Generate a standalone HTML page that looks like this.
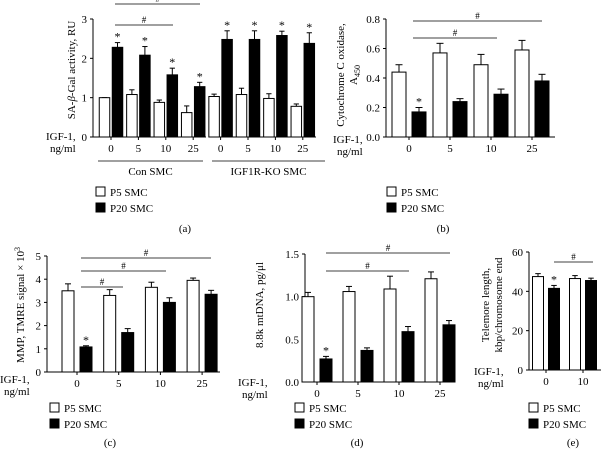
<!DOCTYPE html>
<html><head><meta charset="utf-8">
<style>
html,body{margin:0;padding:0;background:#fff;}
svg{display:block;font-family:"Liberation Serif",serif;}
</style></head>
<body>
<svg id="fig" width="605" height="451" viewBox="0 0 605 451" xmlns="http://www.w3.org/2000/svg">
</svg>
<script>
// Panel (a)
const aCats = ["0","5","10","25","0","5","10","25"];
const aP5 = [1.0,1.08,0.88,0.62,1.03,1.08,0.98,0.78];
const aP5Err = [0.0,0.12,0.06,0.17,0.06,0.16,0.12,0.06];
const aP20 = [2.28,2.08,1.58,1.28,2.48,2.48,2.58,2.38];
const aP20Err = [0.12,0.22,0.17,0.11,0.22,0.22,0.11,0.27];
const aTicks = [0,1,2,3];
// Panel (b)
const bCats = ["0","5","10","25"];
const bP5 = [0.44,0.57,0.49,0.59];
const bP5Err = [0.05,0.065,0.07,0.065];
const bP20 = [0.17,0.24,0.29,0.38];
const bP20Err = [0.03,0.02,0.035,0.045];
const bTicks = [0,0.2,0.4,0.6,0.8];
const bTickLabels = ["0.0","0.2","0.4","0.6","0.8"];
// Panel (c)
const cCats = ["0","5","10","25"];
const cP5 = [3.5,3.3,3.65,3.95];
const cP5Err = [0.3,0.25,0.22,0.1];
const cP20 = [1.08,1.7,3.0,3.35];
const cP20Err = [0.05,0.17,0.2,0.17];
const cTicks = [0,1,2,3,4,5];
// Panel (d)
const dCats = ["0","5","10","25"];
const dP5 = [1.0,1.06,1.09,1.21];
const dP5Err = [0.05,0.06,0.15,0.08];
const dP20 = [0.27,0.37,0.59,0.67];
const dP20Err = [0.03,0.03,0.06,0.05];
const dTicks = [0,0.5,1.0,1.5];
const dTickLabels = ["0.0","0.5","1.0","1.5"];
// Panel (e)
const eCats = ["0","10"];
const eP5 = [47.5,46.5];
const eP5Err = [1.5,1.5];
const eP20 = [41.5,45.5];
const eP20Err = [1.5,1.2];
const eTicks = [0,20,40,60];

const NS = "http://www.w3.org/2000/svg";
const svg = document.getElementById("fig");
function mk(tag, attrs, parent, text){
  const e = document.createElementNS(NS, tag);
  for (const k in attrs) e.setAttribute(k, attrs[k]);
  if (text !== undefined) e.textContent = text;
  (parent||svg).appendChild(e);
  return e;
}

function panel(cfg){
  const g = mk("g", {});
  
  
  const y = v => cfg.y0 - v * (cfg.y0 - cfg.yTop) / cfg.max;
  const cx = i => cfg.c0 + i * cfg.step;
  const ya = mk("line", {x1:cfg.ax, x2:cfg.ax, y1:cfg.yTop, y2:cfg.y0, stroke:"#000","stroke-width":1}, g);
  
  
  cfg.ticks.forEach((t, k) => {
    mk("line", {x1:cfg.ax-3, x2:cfg.ax, y1:y(t), y2:y(t), stroke:"#000"}, g);
    const tl = mk("text", {x:cfg.ax-6, y:y(t)+4, "font-size":11, "text-anchor":"end"}, g, cfg.tickLabels ? cfg.tickLabels[k] : String(t));
    
    
  });
  (cfg.xSegs || [[cfg.ax, cfg.xEnd]]).forEach(s => {
    const xa = mk("line", {x1:s[0], x2:s[1], y1:cfg.y0, y2:cfg.y0, stroke:"#000"}, g);
    
    
  });
  cfg.cats.forEach((c, i) => {
    mk("line", {x1:cx(i), x2:cx(i), y1:cfg.y0, y2:cfg.y0+3, stroke:"#000"}, g);
    const xl = mk("text", {x:cx(i), y:cfg.y0+15, "font-size":11, "text-anchor":"middle"}, g, c);
    
    
  });
  function bars(vals, errs, off, fill, nm, star){
    vals.forEach((v, i) => {
      const x = cx(i) + off;
      const top = y(v + errs[i]);
      mk("line", {x1:x, x2:x, y1:y(v), y2:top, stroke:"#000"}, g);
      mk("line", {x1:x-cfg.bw/4, x2:x+cfg.bw/4, y1:top, y2:top, stroke:"#000"}, g);
      const r = mk("rect", {x:x-cfg.bw/2, y:y(v), width:cfg.bw, height:cfg.y0-y(v), fill:fill, stroke:"#000","stroke-width":1}, g);
      
      
      if (star(i)) {
        const s = mk("text", {x:x, y:top-2, "font-size":12, "text-anchor":"middle"}, g, "*");
        
        
      }
    });
  }
  bars(cfg.p5, cfg.p5e, -cfg.off, "#fff", "bar-p5", () => false);
  bars(cfg.p20, cfg.p20e, cfg.off, "#000", "bar-p20", cfg.star);
  cfg.sig.forEach(s => {
    mk("line", {x1:s[1], x2:s[2], y1:s[0], y2:s[0], stroke:"#000","stroke-width":0.8}, g);
    const h = mk("text", {x:(s[1]+s[2])/2, y:s[0]-2, "font-size":9, "text-anchor":"middle"}, g, "#");
    
    
  });
  const tt = mk("text", {transform:`translate(${cfg.tx},${cfg.ty}) rotate(-90)`, "font-size":11, "text-anchor":"middle"}, g);
  
  
  cfg.title.forEach((line, k) => {
    const ts = mk("tspan", {x:0, dy: k===0 ? 0 : 13}, tt);
    ts.innerHTML = line;
  });
  const ig = mk("text", {x:cfg.igx, y:cfg.igy, "font-size":11}, g);
  
  
  mk("tspan", {x:cfg.igx, dy:0}, ig, "IGF-1,");
  mk("tspan", {x:cfg.igx+4, dy:12}, ig, "ng/ml");
  const lg = mk("g", {}, g);
  
  
  [["#fff","P5 SMC",cfg.ly],["#000","P20 SMC",cfg.ly+16]].forEach(e => {
    mk("rect", {x:cfg.lx, y:e[2]-5, width:9, height:9, fill:e[0], stroke:"#000"}, lg);
    const t = mk("text", {x:cfg.lx+14, y:e[2]+4, "font-size":11}, lg, e[1]);
    
    
  });
  const pl = mk("text", {x:cfg.plx, y:cfg.ply, "font-size":11, "text-anchor":"middle"}, g, cfg.plabel);
  
  
}

panel({name:"panel-a", ax:93, y0:137, yTop:19, max:3, ticks:aTicks, cats:aCats, c0:111, step:27.4, off:6.5, bw:10.5,
  xSegs:[[93,206],[209,316]], p5:aP5, p5e:aP5Err, p20:aP20, p20e:aP20Err, star:()=>true,
  sig:[[25,115,173],[4,115,200]], title:["SA-<tspan font-style='italic'>β</tspan>-Gal activity, RU"], tx:75, ty:70,
  igx:46, igy:140, lx:96, ly:192, plx:185, ply:232, plabel:"(a)"});
panel({name:"panel-b", ax:386, y0:137, yTop:19, max:0.8, ticks:bTicks, tickLabels:bTickLabels, cats:bCats, c0:409, step:41, off:10, bw:14,
  xEnd:555, p5:bP5, p5e:bP5Err, p20:bP20, p20e:bP20Err, star:i=>i===0,
  sig:[[38,413,497],[21,413,542]], title:["Cytochrome C oxidase,","A<tspan font-size='8' dy='3'>450</tspan>"], tx:344, ty:75,
  igx:333, igy:143, lx:387, ly:192, plx:443, ply:232, plabel:"(b)"});
panel({name:"panel-c", ax:47, y0:372, yTop:256, max:5, ticks:cTicks, cats:cCats, c0:77, step:41.7, off:9, bw:12,
  xEnd:220, p5:cP5, p5e:cP5Err, p20:cP20, p20e:cP20Err, star:i=>i===0,
  sig:[[258,81,211],[271,81,166],[287,81,123]], title:["MMP, TMRE signal × 10<tspan font-size='8' dy='-4'>3</tspan>"], tx:24, ty:305,
  igx:0, igy:383, lx:50, ly:408, plx:110, ply:446, plabel:"(c)"});
panel({name:"panel-d", ax:305, y0:382, yTop:254, max:1.5, ticks:dTicks, tickLabels:dTickLabels, cats:dCats, c0:317, step:41, off:9, bw:12,
  xEnd:452, p5:dP5, p5e:dP5Err, p20:dP20, p20e:dP20Err, star:i=>i===0,
  sig:[[253,326,450],[271,326,409]], title:["8.8k mtDNA, pg/μl"], tx:263, ty:305,
  igx:238, igy:386, lx:295, ly:408, plx:357, ply:446, plabel:"(d)"});
panel({name:"panel-e", ax:529, y0:370, yTop:252, max:60, ticks:eTicks, cats:eCats, c0:546, step:37, off:8, bw:11,
  xEnd:601, p5:eP5, p5e:eP5Err, p20:eP20, p20e:eP20Err, star:i=>i===0,
  sig:[[262,554,593]], title:["Telemore length,","kbp/chromosome end"], tx:489, ty:305,
  igx:474, igy:375, lx:529, ly:408, plx:573, ply:446, plabel:"(e)"});

[[98,203,"Con SMC"],[212,325,"IGF1R-KO SMC"]].forEach(s => {
  mk("line", {x1:s[0], x2:s[1], y1:161, y2:161, stroke:"#000","stroke-width":0.8});
  const t = mk("text", {x:(s[0]+s[1])/2, y:175, "font-size":11, "text-anchor":"middle"}, svg, s[2]);
  
  
});
</script>
</body></html>
